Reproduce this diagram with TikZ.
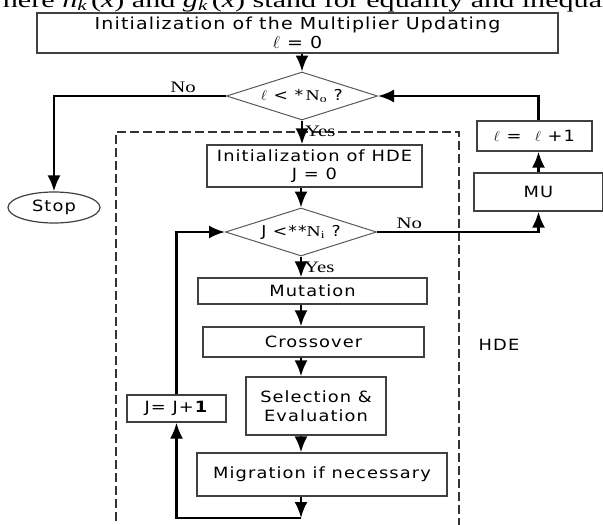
\documentclass[tikz,border=0pt]{standalone}
\usepackage{fontspec}
\setmainfont{Liberation Serif}
\newfontfamily\flowfont[FakeStretch=1.15, LetterSpace=7]{DejaVu Sans}
\newfontfamily\labelfont[FakeStretch=1.3]{Liberation Serif}
\newfontfamily\captionfont[FakeStretch=1.4]{Liberation Serif}
\usetikzlibrary{arrows.meta,positioning,shapes.geometric}
\tikzset{
  flow-box/.style={draw=black!75, line width=1.2pt, inner sep=0pt, align=center,
    font=\flowfont\fontsize{15.5pt}{18.5pt}\selectfont},
  flow-decision/.style={diamond, draw=black!65, line width=1pt, inner sep=0pt, aspect=3.15,
    minimum width=151pt, minimum height=48pt, font=\flowfont\fontsize{15pt}{18pt}\selectfont},
  flow-terminal/.style={ellipse, draw=black!75, line width=1.2pt, inner sep=0pt,
    font=\flowfont\fontsize{15.5pt}{18.5pt}\selectfont},
  flow-text/.style={font=\flowfont\fontsize{15.5pt}{18.5pt}\selectfont},
  flow-label/.style={font=\labelfont\fontsize{16pt}{18pt}\selectfont, inner sep=2pt},
  flow-arrow/.style={-{Latex[length=16pt,width=13pt]}, line width=2.4pt},
  hde-frame/.style={draw=black!80, line width=1.2pt, dash pattern=on 9pt off 4pt}
}

\begin{document}
\begin{tikzpicture}[x=1pt, y=-1pt]
  \useasboundingbox (0,0) rectangle (603,525);
  \clip (0,0) rectangle (603,525);

  % text of the page above the figure
  \node[anchor=base west, inner sep=0pt, font=\captionfont\fontsize{21.5pt}{24pt}\selectfont] (caption) at (-19,7)
    {where \textit{h}\textsubscript{\textit{k}}\,(\textit{x}) and \textit{g}\textsubscript{\textit{k}}\,(\textit{x}) stand for equality and inequality};

  % outer loop
  \node[flow-box, minimum width=521pt, minimum height=40pt, font=\flowfont\fontsize{16.5pt}{18.5pt}\selectfont] (init) at (297.5,33)
    {Initialization of the Multiplier Updating\\$\ell$ = 0};
  \node[flow-decision] (d1) at (302,96) {$\ell$ < *\,{\labelfont N\textsubscript{o}} ?};
  \node[flow-terminal, minimum width=92pt, minimum height=31pt] (stop) at (54,207.5) {Stop};
  \node[flow-box, minimum width=115pt, minimum height=30pt] (upd) at (534.5,136) {$\ell$ = \ $\ell$ +1};
  \node[flow-box, minimum width=129pt, minimum height=38pt] (mu) at (538.5,192) {MU};

  % HDE frame
  \draw[hde-frame] (116,560) |- (459,132) -- (459,560);
  \node[flow-text] (hde-label) at (499,345) {HDE};

  % inner loop
  \node[flow-box, minimum width=215pt, minimum height=42pt] (hde) at (314.5,166)
    {Initialization of HDE\\J = 0};
  \node[flow-decision] (d2) at (301,232) {J <**{\labelfont N\textsubscript{i}} ?};
  \node[flow-box, minimum width=229pt, minimum height=26pt] (mut) at (312.5,291) {Mutation};
  \node[flow-box, minimum width=221pt, minimum height=30pt] (cro) at (313.5,342) {Crossover};
  \node[flow-box, minimum width=140pt, minimum height=58pt] (sel) at (316,406) {Selection \&\\Evaluation};
  \node[flow-box, minimum width=250pt, minimum height=43pt] (mig) at (322,474.5) {Migration if necessary};
  \node[flow-box, minimum width=99pt, minimum height=27pt] (inc) at (176.5,408.5) {J= J+\textbf{1}};
  \coordinate (loopb) at (301,518);

  % connectors
  \draw[flow-arrow] (init.south -| d1.north) -- (d1.north);
  \draw[flow-arrow] (d1.west) -| node[flow-label, above, pos=0.125] {No} (stop.north);
  \draw[flow-arrow] (d1.south) -- node[flow-label, right, pos=0.45] {Yes} (d1.south |- hde.north);
  \draw[flow-arrow] (hde.south -| d2.north) -- (d2.north);
  \draw[flow-arrow] (d2.south) -- node[flow-label, right, pos=0.5] {Yes} (d2.south |- mut.north);
  \draw[flow-arrow] (mut.south -| d2.south) -- (d2.south |- cro.north);
  \draw[flow-arrow] (cro.south -| d2.south) -- (d2.south |- sel.north);
  \draw[flow-arrow] (sel.south -| d2.south) -- (d2.south |- mig.north);
  \draw[flow-arrow] (mig.south -| d2.south) -- (loopb);
  \draw[flow-arrow] (loopb) -| (inc.south);
  \draw[flow-arrow] (inc.north) |- (d2.west);
  \draw[flow-arrow] (d2.east) -| node[flow-label, above, pos=0.1] {No} (mu.south);
  \draw[flow-arrow] (mu.north) -- (mu.north |- upd.south);
  \draw[flow-arrow] (mu.north |- upd.north) |- (d1.east);
\end{tikzpicture}
\end{document}
